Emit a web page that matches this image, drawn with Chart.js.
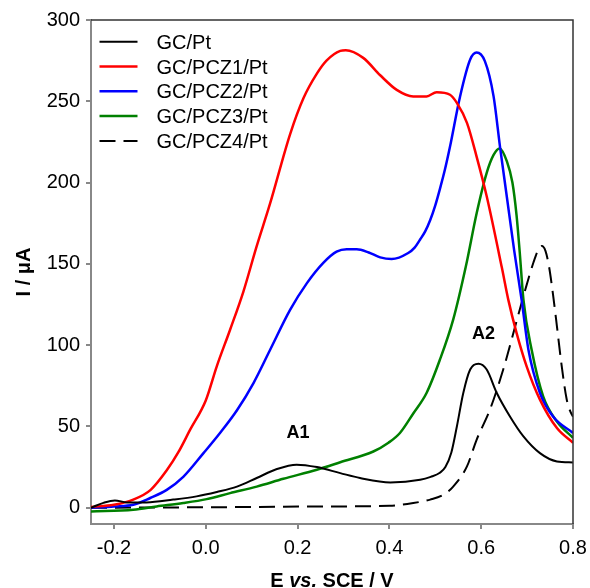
<!DOCTYPE html>
<html><head><meta charset="utf-8">
<script src="https://cdn.jsdelivr.net/npm/chart.js@4/dist/chart.umd.min.js"></script>
<style>html,body{margin:0;padding:0;background:#fff}</style>
</head><body>
<canvas id="c" width="590" height="588"></canvas>
<script>
// ---- data ----
const seriesLabels = ["GC/Pt", "GC/PCZ1/Pt", "GC/PCZ2/Pt", "GC/PCZ3/Pt", "GC/PCZ4/Pt"];
const xTicks = [-0.2, 0.0, 0.2, 0.4, 0.6, 0.8];
const yTicks = [0, 50, 100, 150, 200, 250, 300];

const gcE = [-0.25,-0.223,-0.198,-0.172,-0.129,-0.071,-0.02,0.024,0.068,0.111,0.155,0.198,0.242,0.293,0.336,0.402,0.467,0.49,0.51,0.522,0.535,0.547,0.561,0.576,0.594,0.612,0.634,0.663,0.692,0.728,0.765,0.80];
const gcI = [0,3,4.5,3.3,3.3,5,7,9.7,13,18.3,23.8,26.5,25,21.3,18.3,15.6,17.2,19,21.5,25,34,50,70.6,85,88.6,85,70.6,56,43.9,33.6,28.5,27.9];

const z1E = [-0.25,-0.2,-0.158,-0.12,-0.085,-0.06,-0.034,0.0,0.024,0.053,0.082,0.11,0.14,0.184,0.213,0.242,0.263,0.293,0.305,0.343,0.38,0.416,0.452,0.481,0.503,0.532,0.547,0.569,0.590,0.612,0.645,0.659,0.677,0.699,0.728,0.765,0.80];
const z1I = [0.5,1.8,5,11,23,34,48,66,87,109.5,133,160,187,230,252,267,275,281,281.4,276.7,266,257,253,253,255.6,254,249,236.7,216,191.6,147.7,128,107.6,87,66.5,49,40];

const z2E = [-0.25,-0.2,-0.158,-0.121,-0.085,-0.049,-0.005,0.031,0.068,0.104,0.14,0.184,0.22,0.256,0.285,0.307,0.329,0.355,0.38,0.405,0.441,0.455,0.467,0.478,0.489,0.50,0.51,0.521,0.532,0.554,0.576,0.590,0.608,0.627,0.641,0.656,0.672,0.688,0.703,0.728,0.757,0.80];
const z2I = [0,0.8,1.8,6,11,19,33.6,46,60,76.7,97,121.8,138,150.6,157.5,159,159,157,154,153,156.7,160,165,170,177,186,196,208,222,253,275.7,280,274.7,253,222,191,158,128,97,70.6,56,46];

const z3E = [-0.25,-0.158,-0.107,-0.049,0.002,0.053,0.111,0.169,0.242,0.293,0.365,0.398,0.423,0.452,0.481,0.51,0.539,0.567,0.590,0.612,0.627,0.640,0.656,0.668,0.677,0.684,0.692,0.71,0.735,0.765,0.80];
const z3I = [-2.3,-1.2,0.8,2.9,5.3,9,13,17.8,23.4,28,34.6,40,46,58,70.6,91,115.7,149,181,206,217,221,213,200,180,157,128,97,68.5,53,43];

const z4E = [-0.25,0.0,0.27,0.40,0.452,0.489,0.518,0.539,0.569,0.590,0.619,0.648,0.678,0.70,0.714,0.724,0.732,0.740,0.748,0.757,0.765,0.775,0.786,0.793,0.80];
const z4I = [0,0.3,0.8,1.2,2.9,5,8,13,25.4,41.8,60.3,85,115.7,138,151,158.5,161,158,148,130,111.6,88,67,60,56];

const peakLabels = ["A1", "A2"];
const peakE = [0.201, 0.605];
const peakI = [46, 107];

// ---- chart ----
const FONT = '"Liberation Sans", Arial, Helvetica, sans-serif';
const pts = (xs, ys) => xs.map((x, i) => ({x, y: ys[i]}));

const styles = [
  {color: '#000000', width: 2, dash: []},
  {color: '#ff0000', width: 2.5, dash: []},
  {color: '#0000ff', width: 2.5, dash: []},
  {color: '#008000', width: 2.5, dash: []},
  {color: '#000000', width: 2, dash: [16, 8]}
];
const seriesData = [pts(gcE, gcI), pts(z1E, z1I), pts(z2E, z2I), pts(z3E, z3I), pts(z4E, z4I)];

const datasets = seriesLabels.map((lab, i) => ({
  label: lab,
  data: seriesData[i],
  borderColor: styles[i].color,
  backgroundColor: styles[i].color,
  borderWidth: styles[i].width,
  borderDash: styles[i].dash,
  pointRadius: 0,
  fill: false,
  cubicInterpolationMode: 'monotone'
}));

const decor = {
  id: 'decor',
  afterDraw(chart) {
    const ctx = chart.ctx, a = chart.chartArea;
    const xs = chart.scales.x, ys = chart.scales.y;
    ctx.save();
    // top & right frame
    ctx.strokeStyle = '#333333';
    ctx.lineWidth = 1.5;
    ctx.beginPath();
    ctx.moveTo(a.left, a.top); ctx.lineTo(a.right, a.top); ctx.lineTo(a.right, a.bottom);
    ctx.stroke();
    // legend
    ctx.font = '20px ' + FONT;
    ctx.textAlign = 'left';
    ctx.textBaseline = 'alphabetic';
    chart.data.datasets.forEach((ds, i) => {
      const y = 41.7 + i * 24.8;
      ctx.strokeStyle = ds.borderColor;
      ctx.lineWidth = ds.borderWidth;
      ctx.setLineDash(ds.borderDash || []);
      ctx.beginPath(); ctx.moveTo(99.5, y); ctx.lineTo(137.5, y); ctx.stroke();
      ctx.setLineDash([]);
      ctx.fillStyle = '#000';
      ctx.fillText(ds.label, 156.5, y + 7);
    });
    // peak labels
    ctx.font = 'bold 18px ' + FONT;
    ctx.textAlign = 'center';
    ctx.textBaseline = 'middle';
    peakLabels.forEach((t, i) => {
      ctx.fillText(t, xs.getPixelForValue(peakE[i]), ys.getPixelForValue(peakI[i]));
    });
    // x title with italic "vs."
    const parts = [['E ', 'bold 20px '], ['vs.', 'italic bold 20px '], [' SCE / V', 'bold 20px ']];
    let total = 0;
    parts.forEach(p => { ctx.font = p[1] + FONT; total += ctx.measureText(p[0]).width; });
    let x = (a.left + a.right) / 2 - total / 2;
    ctx.textAlign = 'left';
    ctx.textBaseline = 'alphabetic';
    parts.forEach(p => { ctx.font = p[1] + FONT; ctx.fillText(p[0], x, 587); x += ctx.measureText(p[0]).width; });
    // y title
    ctx.translate(24, (a.top + a.bottom) / 2);
    ctx.rotate(-Math.PI / 2);
    ctx.font = 'bold 20px ' + FONT;
    ctx.textAlign = 'center';
    ctx.textBaseline = 'middle';
    ctx.fillText('I / \u03bcA', 0, 0);
    ctx.restore();
  }
};

new Chart(document.getElementById('c'), {
  type: 'line',
  data: {datasets},
  options: {
    responsive: false,
    animation: false,
    devicePixelRatio: 1,
    layout: {padding: {left: 0, right: 17, top: 20, bottom: 0}},
    plugins: {legend: {display: false}, tooltip: {enabled: false}},
    scales: {
      x: {
        type: 'linear', min: -0.25, max: 0.8,
        afterBuildTicks: s => { s.ticks = xTicks.map(v => ({value: v})); },
        afterFit: s => { s.height = 64; s.paddingLeft = 0; s.paddingRight = 0; },
        ticks: {font: {family: FONT, size: 20}, color: '#000', padding: 7,
                callback: v => v.toFixed(1), maxRotation: 0, autoSkip: false},
        grid: {drawOnChartArea: false, drawTicks: true, tickLength: 5, color: '#888', lineWidth: 2},
        border: {display: true, color: '#888', width: 2}
      },
      y: {
        type: 'linear', min: -10, max: 300,
        afterBuildTicks: s => { s.ticks = yTicks.map(v => ({value: v})); },
        afterFit: s => { s.width = 91; s.paddingTop = 0; s.paddingBottom = 0; },
        ticks: {font: {family: FONT, size: 20}, color: '#000', padding: 6, autoSkip: false},
        grid: {drawOnChartArea: false, drawTicks: true, tickLength: 5, color: '#888', lineWidth: 2},
        border: {display: true, color: '#888', width: 2}
      }
    }
  },
  plugins: [decor]
});
</script>
</body></html>
